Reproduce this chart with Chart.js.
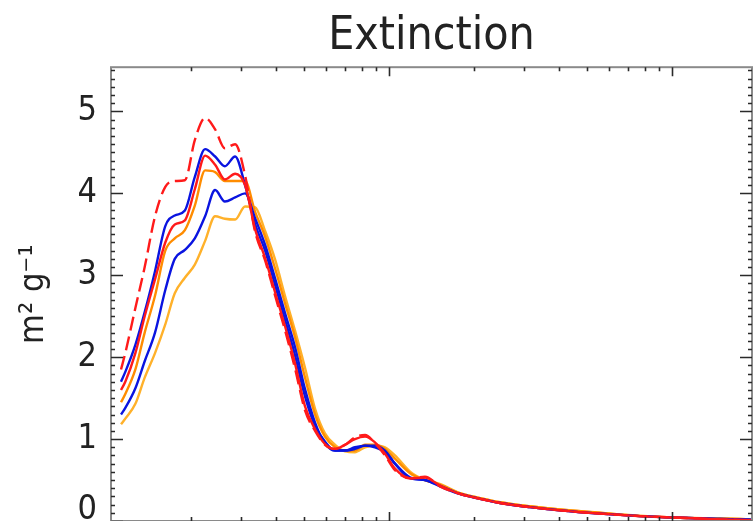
<!DOCTYPE html>
<html>
<head>
<meta charset="utf-8">
<script src="https://cdn.jsdelivr.net/npm/chart.js@4"></script>
<style>
  html, body { margin: 0; padding: 0; background: #fff; }
  #extChart { display: block; }
</style>
</head>
<body>
<canvas id="extChart" width="755" height="521"></canvas>
<script>
// x positions (log axis, no labels visible in the figure)
const xs = [1.13, 1.17, 1.27, 1.37, 1.49, 1.62, 1.75, 1.90, 2.06, 2.24, 2.43, 2.63, 2.86, 3.10,
    3.36, 3.65, 3.96, 4.29, 4.65, 5.05, 5.48, 5.94, 6.45, 6.99, 7.58, 8.23, 8.92, 9.68, 10.5,
    11.9, 13.4, 15.2, 17.8, 21.0, 24.7, 31.5, 40.2, 55.7, 77.1, 107, 148, 190];

const redDashed = [1.85, 2.05, 2.6, 3.1, 3.72, 4.08, 4.15, 4.16, 4.65, 4.92, 4.78, 4.55, 4.6, 4.22,
    3.54, 3.18, 2.75, 2.33, 1.87, 1.35, 1.10, 0.93, 0.88, 0.93, 1.02, 1.05, 0.95, 0.80, 0.62,
    0.52, 0.54, 0.42, 0.33, 0.27, 0.22, 0.17, 0.13, 0.09, 0.06, 0.04, 0.02, 0.01];
const redSolid = [1.6, 1.7, 2.05, 2.5, 2.95, 3.4, 3.62, 3.67, 4.05, 4.46, 4.35, 4.17, 4.24, 4.1,
    3.57, 3.21, 2.79, 2.38, 1.93, 1.40, 1.12, 0.94, 0.88, 0.93, 1.00, 1.03, 0.96, 0.82, 0.64,
    0.52, 0.53, 0.43, 0.33, 0.27, 0.22, 0.17, 0.13, 0.09, 0.06, 0.04, 0.02, 0.01];
const blueUpper = [1.7, 1.82, 2.15, 2.55, 3.05, 3.6, 3.73, 3.79, 4.2, 4.54, 4.45, 4.33, 4.45, 4.1,
    3.63, 3.30, 2.88, 2.46, 2.03, 1.52, 1.16, 0.97, 0.86, 0.86, 0.90, 0.92, 0.92, 0.86, 0.70,
    0.52, 0.50, 0.43, 0.33, 0.27, 0.22, 0.17, 0.13, 0.09, 0.06, 0.04, 0.025, 0.015];
const blueLower = [1.3, 1.38, 1.62, 1.95, 2.3, 2.82, 3.2, 3.31, 3.45, 3.72, 4.04, 3.9, 3.95, 4.0,
    3.70, 3.37, 2.96, 2.54, 2.13, 1.61, 1.20, 0.95, 0.86, 0.86, 0.88, 0.92, 0.90, 0.84, 0.70,
    0.53, 0.50, 0.42, 0.33, 0.27, 0.22, 0.17, 0.13, 0.09, 0.06, 0.04, 0.025, 0.015];
const orangeUpper = [1.45, 1.55, 1.85, 2.3, 2.75, 3.3, 3.45, 3.55, 3.85, 4.28, 4.26, 4.15, 4.15, 4.15,
    3.78, 3.47, 3.08, 2.66, 2.25, 1.75, 1.30, 1.03, 0.90, 0.86, 0.86, 0.93, 0.93, 0.88, 0.76,
    0.58, 0.50, 0.44, 0.34, 0.28, 0.23, 0.18, 0.14, 0.10, 0.06, 0.04, 0.03, 0.02];
const orangeLower = [1.18, 1.25, 1.43, 1.75, 2.05, 2.4, 2.78, 2.97, 3.13, 3.42, 3.72, 3.69, 3.68, 3.84,
    3.83, 3.54, 3.19, 2.75, 2.33, 1.87, 1.37, 1.07, 0.93, 0.85, 0.84, 0.90, 0.92, 0.90, 0.80,
    0.60, 0.50, 0.45, 0.34, 0.28, 0.23, 0.18, 0.14, 0.10, 0.065, 0.04, 0.03, 0.02];

const yTicks = [0, 1, 2, 3, 4, 5];
const xRange = [1.0415, 191.8];
const yRange = [0, 5.54];

const FONT = "'DejaVu Sans Condensed', 'DejaVu Sans', sans-serif";

const toPoints = (ys) => ys.map((y, i) => ({ x: xs[i], y }));

const series = [
    { data: redDashed, color: '#ff1a1a', dash: [14, 6] },
    { data: redSolid, color: '#ff1a1a', dash: [] },
    { data: blueUpper, color: '#0a14e0', dash: [] },
    { data: blueLower, color: '#0a14e0', dash: [] },
    { data: orangeUpper, color: '#ff8c00', dash: [] },
    { data: orangeLower, color: '#ffb12a', dash: [] },
];

// IDL-like box with inward ticks on all four sides
const idlBox = {
    id: 'idlBox',
    afterDatasetsDraw(chart) {
        const { ctx, chartArea: a, scales: { x, y } } = chart;
        ctx.save();
        ctx.strokeStyle = '#8a8a8a';
        ctx.lineWidth = 2;
        ctx.strokeRect(a.left, a.top, a.right - a.left, a.bottom - a.top);

        ctx.strokeStyle = '#2a2a2a';
        ctx.lineWidth = 1.6;
        ctx.beginPath();
        for (let i = 0; i <= 55; i++) {
            const v = i / 10;
            const py = Math.round(y.getPixelForValue(v)) + 0.5;
            const len = i % 10 === 0 ? 12 : 4;
            ctx.moveTo(a.left, py); ctx.lineTo(a.left + len, py);
            ctx.moveTo(a.right, py); ctx.lineTo(a.right - len, py);
        }
        for (let d = 1; d <= 100; d *= 10) {
            for (let m = 1; m <= 9; m++) {
                const v = m * d;
                if (v < xRange[0] || v > xRange[1]) continue;
                const px = Math.round(x.getPixelForValue(v)) + 0.5;
                const len = m === 1 ? 9 : 4;
                ctx.moveTo(px, a.top); ctx.lineTo(px, a.top + len);
                ctx.moveTo(px, a.bottom); ctx.lineTo(px, a.bottom - len);
            }
        }
        ctx.stroke();
        ctx.restore();
    }
};

new Chart(document.getElementById('extChart').getContext('2d'), {
    type: 'line',
    data: {
        datasets: series.map(s => ({
            data: toPoints(s.data),
            borderColor: s.color,
            borderDash: s.dash,
            borderWidth: 2.4,
            pointRadius: 0,
            fill: false,
            cubicInterpolationMode: 'monotone',
        })),
    },
    options: {
        responsive: false,
        animation: false,
        devicePixelRatio: 1,
        layout: { autoPadding: false, padding: { left: 0, right: 3, top: 0, bottom: 0 } },
        plugins: {
            legend: { display: false },
            tooltip: { enabled: false },
            title: {
                display: true,
                fullSize: false,
                text: 'Extinction',
                color: '#222',
                font: { family: FONT, size: 46, weight: 'normal' },
                padding: { top: 9, bottom: 3 },
            },
        },
        scales: {
            x: {
                type: 'logarithmic',
                min: xRange[0],
                max: xRange[1],
                display: false,
            },
            y: {
                type: 'linear',
                min: yRange[0],
                max: yRange[1],
                afterFit: (scale) => {
                    scale.width = 111;
                    scale.paddingTop = 0;
                    scale.paddingBottom = 0;
                },
                afterBuildTicks: (scale) => { scale.ticks = yTicks.map(v => ({ value: v })); },
                grid: { display: false, drawTicks: false },
                border: { display: false },
                ticks: {
                    autoSkip: false,
                    padding: 14,
                    color: '#222',
                    font: { family: FONT, size: 34, lineHeight: 0.65 },
                    // the bottom label sits a little above its tick, as in the figure
                    callback: (v) => (v === 0 ? ['0', ''] : String(v)),
                },
                title: {
                    display: true,
                    text: 'm² g⁻¹',
                    color: '#222',
                    font: { family: FONT, size: 34 },
                    padding: { top: 14, bottom: 0 },
                },
            },
        },
    },
    plugins: [idlBox],
});
</script>
</body>
</html>
